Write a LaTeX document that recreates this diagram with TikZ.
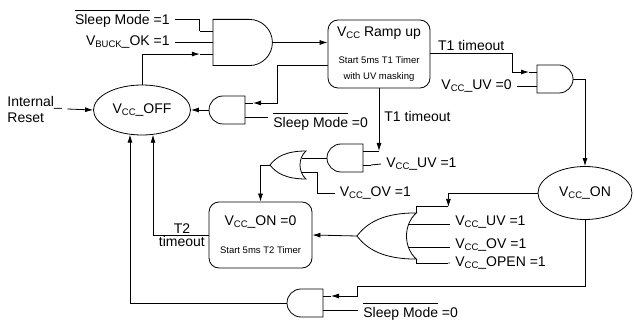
\documentclass[tikz,border=0pt]{standalone}
\usepackage{fontspec}
\setmainfont{Liberation Sans}
\usetikzlibrary{arrows.meta,calc,shapes.geometric}
\newcommand\vsub[1]{{\fontsize{9.5}{10}\selectfont\raisebox{-2pt}{#1}}}
\newcommand\negbar[1]{\leavevmode\vbox{\hrule height 0.8pt\kern3.5pt\hbox{#1}}}
\tikzset{
  andgate/.pic={
    \draw (0,-14) -- (22,-14) arc[start angle=-90,end angle=90,radius=14] -- (0,14) -- cycle;
    \draw (0,-7) -- (-8,-7) (0,7) -- (-8,7);
    \coordinate (-in1) at (-8,-7);
    \coordinate (-in2) at (-8,7);
    \coordinate (-out) at (36,0);
  },
  andgatethree/.pic={
    \draw (0,-14) -- (22,-14) arc[start angle=-90,end angle=90,radius=14] -- (0,14) -- cycle;
    \draw (0,-7) -- (-8,-7) (0,0) -- (-8,0) (0,7) -- (-8,7);
    \coordinate (-in1) at (-8,-7);
    \coordinate (-inm) at (-8,0);
    \coordinate (-in2) at (-8,7);
    \coordinate (-out) at (36,0);
  },
  orgate/.pic={
    \draw (0,-14) .. controls (20,-14) and (30,-8) .. (36,0)
      .. controls (30,8) and (20,14) .. (0,14)
      .. controls (8,7) and (8,-7) .. (0,-14) -- cycle;
    \coordinate (-in1) at (4.5,-7);
    \coordinate (-in2) at (4.5,7);
    \coordinate (-c1) at (0,-14);
    \coordinate (-c2) at (0,14);
    \coordinate (-out) at (36,0);
  }
}
\begin{document}
\begin{tikzpicture}[x=1pt,y=-1pt,>={Latex[length=8pt,width=5pt]},line width=0.8pt,
    font=\fontsize{14}{16}\selectfont,
    lbl/.style={inner xsep=5pt,inner ysep=2pt},
    state/.style={draw,ellipse,minimum width=97pt,minimum height=50pt},
    timerbox/.style={draw,rounded corners=10pt,align=center,minimum width=102pt,minimum height=67pt}]
  \useasboundingbox (0,0) rectangle (634,320);
  % states
  \node[state] (off) at (142,110) {V\vsub{CC}\_OFF};
  \node[state,minimum width=94pt,minimum height=53pt] (on) at (585,193) {V\vsub{CC}\_ON};
  \node[timerbox,minimum height=68pt] (ramp) at (379,54)
    {V\vsub{CC} Ramp up\\[11pt]\fontsize{9.5}{11}\selectfont Start 5ms T1 Timer\\\fontsize{9.5}{11}\selectfont with UV masking};
  \node[timerbox,minimum width=103pt,minimum height=66pt] (onzero) at (260.5,235)
    {V\vsub{CC}\_ON =0\\[12pt]\fontsize{9.5}{11}\selectfont Start 5ms T2 Timer};
  % gates
  \pic[scale=1.65] (g1) at (213,42.5) {andgatethree};
  \pic (g2) at (537,79) {andgate};
  \pic[xscale=-1] (g3) at (245,110) {andgate};
  \pic[xscale=-1] (g4) at (363,158) {andgate};
  \pic[xscale=-1] (g5) at (323,303) {andgate};
  \pic[xscale=-1] (or1) at (306,165) {orgate};
  \pic[scale=1.65,xscale=-1] (or2) at (416.4,236) {orgate};
  % input labels
  \node[lbl,anchor=east] (sleep1) at (175,19) {\negbar{Sleep Mode} =1};
  \node[lbl,anchor=east] (buck) at (175,42.5) {V\vsub{BUCK}\_OK =1};
  \node[lbl,anchor=west,align=left] (reset) at (2,109) {Internal\_\\Reset};
  \node[lbl,anchor=west] (sleep0a) at (268,121.5) {\negbar{Sleep Mode} =0};
  \node[lbl,anchor=east] (uv0) at (517,86) {V\vsub{CC}\_UV =0};
  \node[lbl,anchor=west] (uv1a) at (381,164) {V\vsub{CC}\_UV =1};
  \node[lbl,anchor=west] (ov1a) at (334.5,193) {V\vsub{CC}\_OV =1};
  \node[lbl,anchor=west] (uv1b) at (450,222) {V\vsub{CC}\_UV =1};
  \node[lbl,anchor=west] (ov1b) at (450,245) {V\vsub{CC}\_OV =1};
  \node[lbl,anchor=west] (openb) at (450,263) {V\vsub{CC}\_OPEN =1};
  \node[lbl,anchor=west] (sleep0b) at (358,312) {\negbar{Sleep Mode} =0};
  \coordinate (or2top) at ($(or2-c1)+(32,-6)$);
  \coordinate (or2bot) at ($(or2-c2)+(32,4)$);
  % connectors
  \draw (sleep1.east) -| (g1-in1);
  \draw (buck.east) -- (g1-inm);
  \draw[->] (off.north) |- (g1-in2);
  \draw[->] (g1-out) -- (ramp.west |- g1-out);
  \draw[->] (reset.east) -- (off.west);
  \draw[->] ([yshift=-11pt]ramp.west) -| ([xshift=24pt]g3-in1) -- (g3-in1);
  \draw (g3-in2) -- (g3-in2 -| sleep0a.west);
  \draw[->] (g3-out) -- (off.east);
  \draw[->] ([yshift=1pt]ramp.east) -| node[pos=.25,above,lbl]{T1 timeout} ([xshift=-17pt]g2-in1) -- (g2-in1);
  \draw (uv0.east) -- (g2-in2);
  \draw[->] (g2-out) -| (on.north);
  \draw[->] (ramp.south) -- node[pos=.45,right,lbl]{T1 timeout} (ramp.south |- g4-in1);
  \draw (ramp.south |- g4-in1) -- (g4-in1);
  \draw (g4-in2) -- (uv1a.west);
  \draw (g4-out) -- (or1-in1);
  \draw (or1-in2) -| ([xshift=-17pt]ov1a.west) -- (ov1a.west);
  \draw[->] (or1-out) -| (onzero.north);
  \draw[->] (on.west) -| (or2top);
  \draw (or2top) -| (or2-c1);
  \draw (or2-in1) -- (or2-in1 -| uv1b.west);
  \draw (or2-in2) -- (or2-in2 -| ov1b.west);
  \draw (or2-c2) |- (or2bot);
  \draw (or2bot) -- (openb.west);
  \draw[->] (or2-out) -- (onzero.east);
  \draw[->] (onzero.west) -| node[pos=.24,above,lbl,inner ysep=1pt]{T2} node[pos=.24,below,lbl,inner ysep=1pt]{timeout} (off.294);
  \draw[->] (on.south) -- ++(0,66) -| ([xshift=26pt]g5-in1) -- (g5-in1);
  \draw (g5-in2) -- (g5-in2 -| sleep0b.west);
  \draw[->] (g5-out) -| (off.244);
\end{tikzpicture}
\end{document}
